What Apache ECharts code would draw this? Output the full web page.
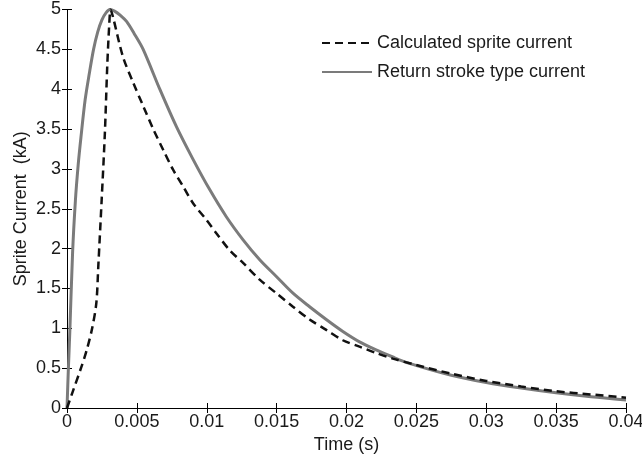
<!DOCTYPE html>
<html>
<head>
<meta charset="utf-8">
<script src="https://cdn.jsdelivr.net/npm/echarts@6/dist/echarts.min.js"></script>
<style>
html,body{margin:0;padding:0;background:#fff;}
#chart{width:642px;height:459px;}
</style>
</head>
<body>
<div id="chart"></div>
<script>
var seriesNames = ['Calculated sprite current', 'Return stroke type current'];
var xTickValues = [0, 0.005, 0.01, 0.015, 0.02, 0.025, 0.03, 0.035, 0.04];
var yTickValues = [0, 0.5, 1, 1.5, 2, 2.5, 3, 3.5, 4, 4.5, 5];

var dashedTime = [0, 0.0004, 0.001, 0.0014, 0.0018, 0.0021, 0.00224, 0.00248, 0.00271, 0.00288, 0.00302, 0.00312, 0.0033, 0.0040, 0.00474, 0.00545, 0.00617, 0.00688, 0.00759, 0.00831, 0.00902, 0.00998, 0.0107, 0.01164, 0.0126, 0.01379, 0.01498, 0.01617, 0.01736, 0.01855, 0.01974, 0.02093, 0.02212, 0.02331, 0.0250, 0.0275, 0.0300, 0.0325, 0.0350, 0.0375, 0.0400];
var dashedCurrent = [0, 0.2, 0.5, 0.72, 1.0, 1.32, 1.78, 2.61, 3.45, 4.29, 4.8, 5.0, 4.9, 4.41, 4.08, 3.79, 3.5, 3.24, 2.99, 2.78, 2.57, 2.36, 2.19, 1.98, 1.82, 1.61, 1.44, 1.27, 1.11, 0.98, 0.85, 0.77, 0.69, 0.62, 0.54, 0.43, 0.34, 0.27, 0.21, 0.17, 0.13];

var solidTime = [0, 0.0001, 0.0002, 0.0004, 0.0006, 0.0008, 0.0010, 0.0013, 0.0016, 0.0019, 0.0022, 0.0025, 0.0028, 0.00307, 0.0034, 0.0038, 0.00426, 0.0048, 0.00545, 0.00664, 0.00783, 0.00902, 0.01021, 0.0114, 0.0126, 0.01379, 0.01498, 0.01617, 0.01736, 0.01855, 0.01974, 0.02093, 0.02212, 0.02331, 0.0245, 0.0275, 0.0300, 0.0325, 0.0350, 0.0375, 0.0400];
var solidCurrent = [0, 0.5, 0.95, 1.95, 2.6, 3.05, 3.4, 3.87, 4.2, 4.5, 4.72, 4.87, 4.96, 5.0, 4.98, 4.93, 4.85, 4.7, 4.5, 4.0, 3.53, 3.12, 2.74, 2.40, 2.11, 1.86, 1.65, 1.44, 1.27, 1.11, 0.96, 0.83, 0.73, 0.64, 0.56, 0.41, 0.32, 0.25, 0.19, 0.14, 0.10];

function pairs(xs, ys) { return xs.map(function (x, i) { return [x, ys[i]]; }); }

var textColor = '#1a1a1a';
var font = 'Liberation Sans';
var fs = 18;
var axisLineStyle = { color: '#000', width: 1 };

var chart = echarts.init(document.getElementById('chart'));
chart.setOption({
  animation: false,
  backgroundColor: '#fff',
  textStyle: { fontFamily: font },
  grid: { left: 67, right: 16, top: 9.5, bottom: 51, containLabel: false, outerBoundsMode: 'none' },
  legend: {
    orient: 'vertical',
    left: 316,
    top: 29,
    itemWidth: 50,
    itemHeight: 14,
    itemGap: 11,
    padding: 5,
    data: seriesNames,
    itemStyle: { opacity: 0 },
    textStyle: { fontSize: fs, color: textColor, fontFamily: font }
  },
  xAxis: [{
    type: 'value', min: xTickValues[0], max: xTickValues[xTickValues.length - 1], interval: 0.005,
    name: 'Time (s)', nameLocation: 'middle', nameGap: 28,
    nameTextStyle: { fontSize: fs, color: textColor, fontFamily: font },
    axisLine: { show: true, lineStyle: axisLineStyle },
    axisTick: { show: true, inside: true, length: 5, lineStyle: axisLineStyle },
    axisLabel: { fontSize: fs, color: textColor, margin: 5, fontFamily: font,
      formatter: function (v) { return String(+v.toFixed(4)); } },
    splitLine: { show: false }
  }, {
    type: 'value', position: 'top', min: xTickValues[0], max: xTickValues[xTickValues.length - 1], interval: 0.005,
    axisLine: { show: true, lineStyle: axisLineStyle },
    axisTick: { show: true, inside: true, length: 5, lineStyle: axisLineStyle },
    axisLabel: { show: false }, splitLine: { show: false }
  }],
  yAxis: [{
    type: 'value', min: yTickValues[0], max: yTickValues[yTickValues.length - 1], interval: 0.5,
    name: 'Sprite Current  (kA)', nameLocation: 'middle', nameGap: 37, nameMoveOverlap: false,
    nameTextStyle: { fontSize: fs, color: textColor, fontFamily: font },
    axisLine: { show: true, lineStyle: axisLineStyle },
    axisTick: { show: true, inside: true, length: 5, lineStyle: axisLineStyle },
    axisLabel: { fontSize: fs, color: textColor, margin: 6, fontFamily: font },
    splitLine: { show: false }
  }, {
    type: 'value', position: 'right', min: yTickValues[0], max: yTickValues[yTickValues.length - 1], interval: 0.5,
    axisLine: { show: true, lineStyle: axisLineStyle },
    axisTick: { show: true, inside: true, length: 5, lineStyle: axisLineStyle },
    axisLabel: { show: false }, splitLine: { show: false }
  }],
  series: [{
    name: seriesNames[0],
    type: 'line',
    data: pairs(dashedTime, dashedCurrent),
    showSymbol: false, symbol: 'none',
    smooth: 0.3,
    lineStyle: { color: '#111', width: 2.5, type: [8, 5] },
    itemStyle: { color: '#111' },
    z: 3
  }, {
    name: seriesNames[1],
    type: 'line',
    data: pairs(solidTime, solidCurrent),
    showSymbol: false, symbol: 'none',
    smooth: 0.3,
    lineStyle: { color: '#7b7b7b', width: 3 },
    itemStyle: { color: '#7b7b7b' },
    z: 2
  }]
});
</script>
</body>
</html>
